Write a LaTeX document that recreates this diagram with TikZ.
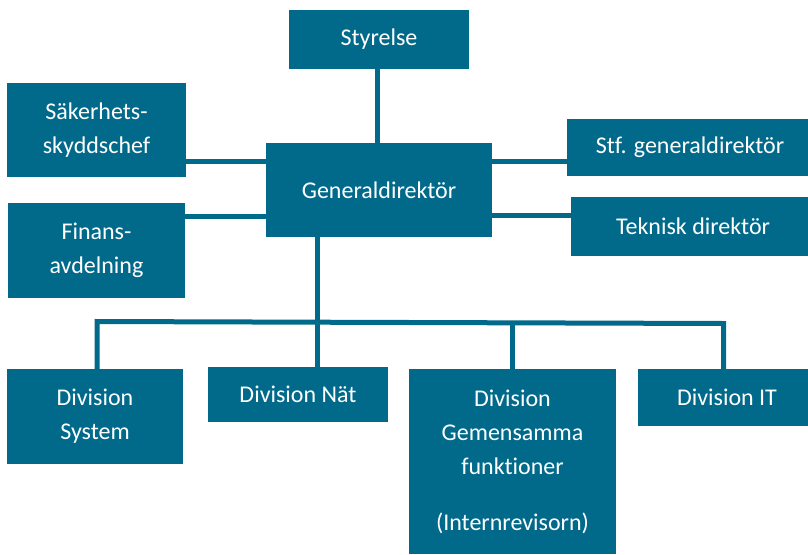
\documentclass[tikz,border=0pt]{standalone}
\usepackage{fontspec}
\setmainfont[Ligatures=NoCommon]{Carlito}
\definecolor{teal1}{HTML}{016A8B}
\begin{document}
\begin{tikzpicture}[x=1pt,y=-1pt,
  box/.style={fill=teal1,draw=none,inner sep=0pt,text=white,align=center,
    font=\fontsize{24}{34}\selectfont},
  conn/.style={draw=teal1,line width=5pt}]
\useasboundingbox (0,0) rectangle (808,554);
\node[box,minimum width=180pt,minimum height=59pt] (sty) at (379,39.5) {Styrelse};
\node[box,minimum width=179pt,minimum height=94pt] (sak) at (96.5,130) {Säkerhets-\\skyddschef};
\node[box,minimum width=226pt,minimum height=94pt] (gd) at (379,190) {Generaldirektör};
\node[box,minimum width=177pt,minimum height=95pt] (fin) at (96.5,250.5) {Finans-\\avdelning};
\node[box,minimum width=241pt,minimum height=57pt] (stf) at (687.5,147.5) {\hspace*{5pt}Stf. generaldirektör};
\node[box,minimum width=237pt,minimum height=59pt] (tek) at (689.5,226.5) {\hspace*{7pt}Teknisk direktör};
\node[box,minimum width=176pt,minimum height=95pt] (sys) at (95,416.5) {Division\\System};
\node[box,minimum width=180pt,minimum height=55pt] (net) at (298,394.5) {Division Nät};
\node[box,minimum width=207pt,minimum height=185pt] (gem) at (512.5,461.5) {Division\\Gemensamma\\funktioner\\[22pt](Internrevisorn)};
\node[box,minimum width=170pt,minimum height=57pt] (it) at (723,397.5) {\hspace*{8pt}Division IT};
\coordinate (busL) at (97,321.5);
\coordinate (busR) at (723.5,323.5);
\draw[conn] (sty.south -| 377.5,0) -- (gd.north -| 377.5,0);
\draw[conn] (sak.east |- 0,161) -- (gd.west |- 0,161);
\draw[conn] (fin.east |- 0,216) -- (gd.west |- 0,216);
\draw[conn] (gd.east |- 0,161) -- (stf.west |- 0,161);
\draw[conn] (gd.east |- 0,215) -- (tek.west |- 0,215);
\draw[conn] (gd.south -| 317,0) -- (net.north -| 317,0);
\draw[conn,line join=miter] (sys.north -| busL) -- (busL) -- (busR) -- (it.north -| busR);
\draw[conn] (gem.north) -- (512.5,322.8);
\end{tikzpicture}
\end{document}
